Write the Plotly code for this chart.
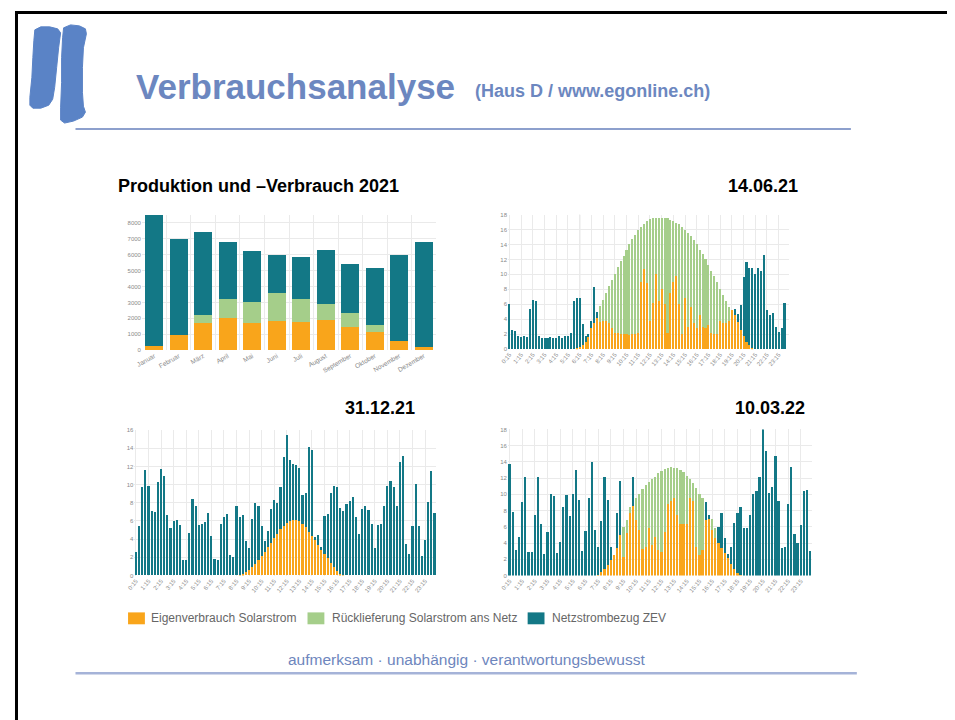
import plotly.graph_objects as go

# ---------------- data ----------------
monate = ["Januar", "Februar", "März", "April", "Mai", "Juni", "Juli",
          "August", "September", "Oktober", "November", "Dezember"]
monat_eigen = [250, 930, 1700, 2000, 1725, 1850, 1745, 1870, 1475, 1165, 580, 190]
monat_rueck = [0, 0, 480, 1200, 1330, 1770, 1455, 1040, 875, 415, 0, 0]
monat_netz = [8250, 6070, 5220, 3620, 3195, 2365, 2660, 3365, 3075, 3615, 5385, 6585]

zeit = [f"{((i + 1) * 15) // 60}:{((i + 1) * 15) % 60:02d}" for i in range(96)]
zeit_ticks = ["0:15", "1:15", "2:15", "3:15", "4:15", "5:15", "6:15", "7:15",
              "8:15", "9:15", "10:15", "11:15", "12:15", "13:15", "14:15", "15:15",
              "16:15", "17:15", "18:15", "19:15", "20:15", "21:15", "22:15", "23:15"]

# 14.06.21
jun_eigen = [0, 0, 0, 0, 0, 0, 0, 0, 0, 0, 0, 0, 0, 0, 0, 0, 0, 0, 0, 0, 0, 0, 0,
             0.1, 0.3, 0.6, 1.0, 1.8, 2.8, 3.5, 4.2,
             3.6, 3.7, 3.8, 3.5, 2.8, 2.2, 2.1, 2.0, 2.0, 2.0,
             1.9, 2.0, 2.0, 2.2, 9.0, 10.7, 8.8, 3.8, 6.2, 10.0,
             6.5, 8.0, 6.0, 2.2, 7.5, 9.0, 9.8, 6.0, 2.0, 6.8,
             3.0, 5.6, 3.5, 2.8, 4.5, 3.0, 2.8, 3.2, 2.1, 2.0,
             2.0, 3.8, 3.5, 3.5, 3.8, 5.2, 4.5, 3.6, 2.6, 1.8,
             1.0, 0.5, 0.2,
             0, 0, 0, 0, 0, 0, 0, 0, 0, 0, 0, 0]
jun_rueck = [0, 0, 0, 0, 0, 0, 0, 0, 0, 0, 0, 0, 0, 0, 0, 0, 0, 0, 0, 0, 0, 0, 0, 0,
             0, 0, 0, 0, 0, 0, 0,
             2.2, 2.9, 3.7, 4.9, 6.5, 7.9, 8.9, 9.8, 10.5, 11.3,
             12.1, 12.7, 13.3, 13.7, 7.4, 6.1, 8.3, 13.6, 11.4, 7.6,
             11.0, 9.5, 11.6, 15.3, 9.8, 8.1, 7.1, 10.7, 14.4, 9.2,
             12.6, 9.5, 11.1, 11.2, 8.8, 9.7, 9.2, 8.1, 8.4, 7.8,
             7.0, 4.3, 3.7, 2.9, 1.8,
             0, 0, 0, 0, 0, 0, 0, 0, 0, 0, 0, 0, 0, 0, 0, 0, 0, 0, 0, 0]
jun_netz = [6.0, 2.5, 2.4, 1.8, 1.6, 1.7, 1.6, 5.4, 6.6, 6.4,
            1.7, 1.5, 1.5, 1.5, 1.6, 1.5, 1.5, 1.7, 1.5, 1.8,
            1.8, 2.2, 6.5, 6.8, 6.6, 2.7, 0.8, 0.2, 0.9, 4.8, 0.8,
            0, 0, 0, 0, 0, 0, 0, 0, 0, 0, 0, 0, 0, 0, 0, 0, 0, 0, 0, 0, 0, 0, 0,
            0, 0, 0, 0, 0, 0, 0, 0, 0, 0, 0, 0, 0, 0, 0, 0, 0, 0, 0, 0, 0, 0, 0,
            0.9, 1.1, 3.3, 7.9, 10.7, 10.4, 10.6, 10.1, 10.9, 10.4,
            12.6, 5.2, 4.5, 4.8, 2.9, 2.3, 2.8, 6.2]

# 31.12.21
dez_eigen = [0, 0, 0, 0, 0, 0, 0, 0, 0, 0, 0, 0, 0, 0, 0, 0, 0, 0, 0, 0, 0, 0, 0,
             0, 0, 0, 0, 0, 0, 0, 0, 0, 0,
             0.05, 0.15, 0.35, 0.6, 0.9, 1.3, 1.7, 2.1, 2.6, 3.1,
             3.6, 4.1, 4.6, 5.1, 5.5, 5.8, 6.0, 6.1, 6.1, 6.0,
             5.7, 5.3, 4.8, 4.4, 3.9, 3.4, 2.9, 2.4, 1.9, 1.4,
             0.9, 0.5, 0.2, 0.05,
             0, 0, 0, 0, 0, 0, 0, 0, 0, 0, 0, 0, 0, 0, 0, 0, 0, 0, 0, 0,
             0, 0, 0, 0, 0, 0, 0, 0, 0]
dez_netz = [2.6, 5.5, 9.7, 11.6, 9.9, 7.1, 7.0, 10.3, 11.7, 10.9,
            6.7, 5.2, 6.0, 6.1, 5.6, 1.7, 1.7, 4.7, 8.4, 7.6,
            5.6, 5.7, 5.9, 6.9, 4.3, 1.8, 1.7, 5.7, 6.4, 6.8,
            2.3, 2.0, 7.7,
            6.35, 6.55, 3.45, 2.4, 5.3, 6.7, 6.0, 3.3, 1.2, 1.8,
            3.7, 4.2, 3.4, 4.6, 7.5, 9.7, 6.7, 6.2, 6.1, 5.8,
            3.2, 3.8, 9.3, 9.4, 0.3, 1.1, 0.2, 4.1, 4.9, 7.7,
            9.0, 9.2, 7.2, 7.05,
            7.9, 8.2, 8.6, 6.4, 4.6, 7.3, 7.6, 7.2, 5.7, 3.0,
            5.6, 5.7, 7.7, 9.8, 10.4, 9.7, 7.7, 12.5, 13.1, 3.5,
            2.4, 5.4, 10.1, 5.5, 2.1, 3.9, 8.1, 11.5, 6.9]

# 10.03.22
mar_eigen = [0, 0, 0, 0, 0, 0, 0, 0, 0, 0, 0, 0, 0, 0, 0, 0, 0, 0, 0, 0,
             0, 0, 0, 0, 0, 0, 0, 0,
             0.1, 0.4, 0.8, 1.3, 1.9, 2.5, 3.4, 5.0, 2.3, 5.2,
             7.7, 8.6, 6.8, 5.6, 3.3, 3.5, 5.9, 3.7, 4.8, 3.1,
             2.9, 5.4, 8.8, 9.2, 9.5, 7.4, 6.4, 6.4, 6.4, 9.5,
             9.2, 3.5, 2.5, 3.1, 6.8, 7.0, 5.6, 4.6, 4.0, 3.4,
             2.8, 2.1, 1.4, 0.8, 0.3, 0.1,
             0, 0, 0, 0, 0, 0, 0, 0, 0, 0, 0, 0, 0, 0, 0, 0, 0, 0, 0, 0, 0, 0]
mar_rueck = [0, 0, 0, 0, 0, 0, 0, 0, 0, 0, 0, 0, 0, 0, 0, 0, 0, 0, 0, 0,
             0, 0, 0, 0, 0, 0, 0, 0, 0, 0, 0, 0, 0, 0, 0, 0,
             3.7, 1.6, 0.7, 0, 2.7, 4.5, 7.4, 7.6, 5.6, 8.2,
             7.4, 9.5, 10.0, 7.7, 4.5, 4.2, 3.8, 5.8, 6.6, 6.3,
             5.9, 2.4, 2.2, 7.3, 7.6, 6.4, 0, 0, 1.4, 1.2,
             0, 0, 0, 0, 0, 0, 0, 0, 0, 0, 0, 0, 0, 0, 0,
             0, 0, 0, 0, 0, 0, 0, 0, 0, 0, 0, 0, 0, 0, 0]
mar_netz = [13.7, 7.8, 3.1, 4.7, 9.0, 12.2, 2.9, 2.9, 7.4, 12.2,
            6.3, 2.7, 5.4, 10.0, 9.8, 2.8, 4.1, 8.5, 9.9, 7.3,
            10.1, 13.0, 9.3, 3.0, 5.5, 9.6, 14.0, 5.6,
            3.4, 6.3, 11.4, 8.0, 1.6, 0, 4.3, 6.7,
            0, 0, 0, 3.5,
            0, 0, 0, 0, 0, 0, 0, 0, 0, 0, 0, 0, 0, 0, 0, 0, 0, 0, 0, 0, 0, 0,
            2.2, 0.5, 0, 0,
            2.0, 4.3, 1.8, 0.6, 2.1, 5.7, 7.4, 8.4,
            5.9, 5.8, 7.5, 10.1, 10.4, 12.1, 18.0, 15.4, 10.2, 10.9,
            14.7, 9.2, 3.4, 3.5, 8.8, 13.4, 5.1, 4.0, 6.2, 10.4,
            10.5, 3.0]

# ---------------- style ----------------
# the page body keeps its default 8px margin, so the figure fills the rest
OX, OY = 8, 8
W, H = 955 - OX, 720 - OY
ORANGE = "#F9A51B"
GREEN = "#A5CE8A"
TEAL = "#137886"
TITLE_BLUE = "#6C87C0"
FONT = "Liberation Sans"


def fx(px):
    return (px - OX) / W


def fy(py):
    return 1 - (py - OY) / H


fig = go.Figure()

# monthly chart
for vals, col, name in [(monat_eigen, ORANGE, "Eigenverbrauch Solarstrom"),
                        (monat_rueck, GREEN, "Rücklieferung Solarstrom ans Netz"),
                        (monat_netz, TEAL, "Netzstrombezug ZEV")]:
    fig.add_trace(go.Bar(x=monate, y=vals, width=0.74,
                         marker=dict(color=col, line=dict(width=0)),
                         name=name, showlegend=False, xaxis="x", yaxis="y"))

# daily charts
for ax, series in [("2", (jun_eigen, jun_rueck, jun_netz)),
                   ("3", (dez_eigen, None, dez_netz)),
                   ("4", (mar_eigen, mar_rueck, mar_netz))]:
    for vals, col in zip(series, [ORANGE, GREEN, TEAL]):
        if vals is None:
            continue
        fig.add_trace(go.Bar(x=zeit, y=vals, marker=dict(color=col, line=dict(width=0)),
                             showlegend=False, xaxis="x" + ax, yaxis="y" + ax))

GRID = "#EAEAEA"
TICKF = dict(family=FONT, size=6, color="#8A8A8A")

common_x = dict(showline=False, zeroline=False, ticks="", showgrid=True,
                gridcolor=GRID, gridwidth=1, tickfont=TICKF)
common_y = dict(showline=False, zeroline=False, ticks="", showgrid=True,
                gridcolor=GRID, gridwidth=1, tickfont=TICKF)

layout = dict(
    width=W, height=H, margin=dict(l=0, r=0, t=0, b=0),
    paper_bgcolor="white", plot_bgcolor="white",
    barmode="stack", bargap=0.3, showlegend=False,
    font=dict(family=FONT),
    xaxis=dict(common_x, domain=[fx(135), fx(431.7)], anchor="y", type="category",
               tickson="boundaries", tickangle=-30,
               tickfont=dict(family=FONT, size=6.5, color="#8A8A8A")),
    yaxis=dict(common_y, domain=[fy(350), fy(213.7)], anchor="x", range=[0, 8500],
               tickvals=[0, 1000, 2000, 3000, 4000, 5000, 6000, 7000, 8000]),
)

daily = {"2": ([504.2, 787.5], [349, 213.3], 18),
         "3": ([127.4, 431.6], [577.3, 430.7], 16),
         "4": ([504.1, 810.6], [577.3, 430.0], 18)}
for ax, (xd, yd, ymax) in daily.items():
    layout["xaxis" + ax] = dict(common_x, domain=[fx(xd[0]), fx(xd[1])], anchor="y" + ax,
                                type="category", tickvals=zeit_ticks, ticktext=zeit_ticks,
                                tickangle=-50)
    layout["yaxis" + ax] = dict(common_y, domain=[fy(yd[0]), fy(yd[1])], anchor="x" + ax,
                                range=[0, ymax], dtick=2)

fig.update_layout(**layout)


def poly(points):
    return "M " + " L ".join(f"{fx(x):.5f},{fy(y):.5f}" for x, y in points) + " Z"


shapes = []
# slide frame
shapes.append(dict(type="rect", xref="paper", yref="paper", x0=fx(8.5), x1=fx(954),
                   y0=fy(9.5), y1=fy(800), line=dict(color="black", width=3),
                   fillcolor="rgba(0,0,0,0)", layer="above"))
# logo strokes
logo_col = "#5A83C6"
left_stroke = [(27, 27), (33, 24), (42, 24), (50, 26), (53, 30), (51, 45), (49, 65),
               (47, 85), (45, 97), (41, 103), (33, 106), (25, 106), (22, 103),
               (22, 95), (24, 75), (25, 55), (26, 38)]
right_stroke = [(56, 25), (63, 22), (72, 23), (78, 26), (79, 31), (76, 45), (75, 65),
                (75, 90), (76, 104), (78, 110), (75, 115), (66, 119), (57, 121),
                (53, 118), (53, 105), (54, 80), (54, 55), (55, 35)]
for pts in (left_stroke, right_stroke):
    shapes.append(dict(type="path", xref="paper", yref="paper", path=poly(pts),
                       fillcolor=logo_col, line=dict(color=logo_col, width=1)))
# title and footer rules
shapes.append(dict(type="line", xref="paper", yref="paper", x0=fx(68), x1=fx(850),
                   y0=fy(127), y1=fy(127), line=dict(color="#8DA0CD", width=2)))
shapes.append(dict(type="line", xref="paper", yref="paper", x0=fx(68), x1=fx(856),
                   y0=fy(676), y1=fy(676), line=dict(color="#A5B3D8", width=2.5)))
# highlighted time line in the 14.06.21 chart
shapes.append(dict(type="line", xref="x2", yref="y2", x0="6:15", x1="6:15", y0=0, y1=18,
                   line=dict(color="#C4C4C4", width=1), layer="below"))
# legend swatches
for x0, col in [(121, ORANGE), (302, GREEN), (524, TEAL)]:
    shapes.append(dict(type="rect", xref="paper", yref="paper", x0=fx(x0), x1=fx(x0 + 17),
                       y0=fy(626.5), y1=fy(614.5), fillcolor=col, line=dict(width=0)))

ann = []


def text(t, x, y, size, color="black", bold=False, xanchor="left"):
    ann.append(dict(text=f"<b>{t}</b>" if bold else t, x=fx(x), y=fy(y),
                    xref="paper", yref="paper", xanchor=xanchor, yanchor="middle",
                    showarrow=False, font=dict(family=FONT, size=size, color=color)))


text("Verbrauchsanalyse", 127, 84.5, 35, TITLE_BLUE, True)
text("(Haus D / www.egonline.ch)", 469, 89, 18, TITLE_BLUE, True)
text("Produktion und –Verbrauch 2021", 109, 184.5, 18, "black", True)
text("14.06.21", 761, 184, 18, "black", True, "center")
text("31.12.21", 375, 408, 18, "black", True, "center")
text("10.03.22", 768, 408, 18, "black", True, "center")
text("Eigenverbrauch Solarstrom", 142, 620.5, 12, "#666666")
text("Rücklieferung Solarstrom ans Netz", 325, 620.5, 12, "#666666")
text("Netzstrombezug ZEV", 547, 620.5, 12, "#666666")
text("aufmerksam · unabhängig · verantwortungsbewusst", 462, 662, 15.5, "#6E86BD",
     False, "center")

fig.update_layout(shapes=shapes, annotations=ann)

fig.write_html("out.html", config={"displayModeBar": False})
